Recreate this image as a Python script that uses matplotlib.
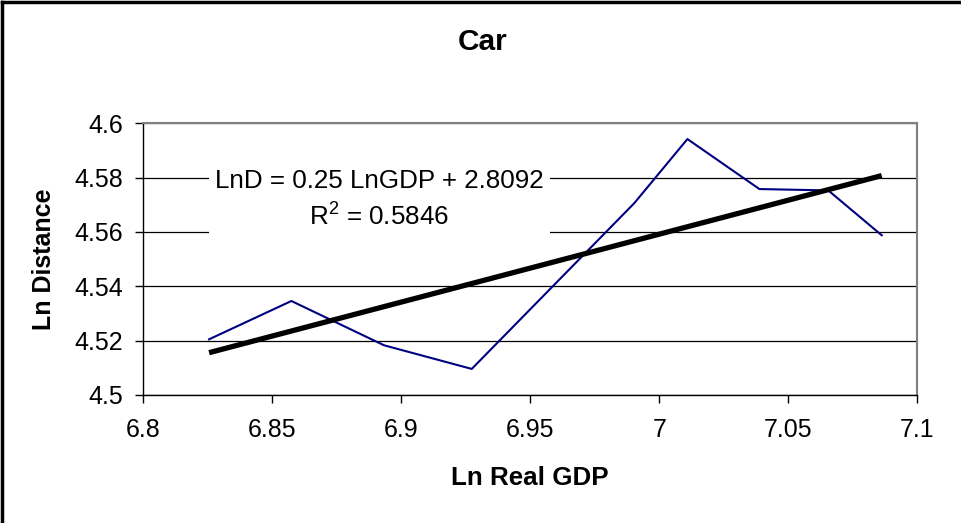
import matplotlib
matplotlib.use("Agg")
import matplotlib.pyplot as plt
from matplotlib.lines import Line2D
import numpy as np

plt.rcParams["font.family"] = ["Liberation Sans", "DejaVu Sans"]
plt.rcParams["mathtext.fontset"] = "custom"
plt.rcParams["mathtext.rm"] = "Liberation Sans"

# Ln Real GDP vs Ln Distance (car)
ln_gdp = [6.8255, 6.8574, 6.8933, 6.9273, 6.9903, 7.0109, 7.0388, 7.0655, 7.0862]
ln_dist = [4.5205, 4.5346, 4.5183, 4.5096, 4.5706, 4.5942, 4.5758, 4.5753, 4.5588]

# linear trend as printed on the chart
slope = 0.25
intercept = 2.8092
r2 = 0.5846

x_ticks = [6.8, 6.85, 6.9, 6.95, 7.0, 7.05, 7.1]
x_tick_labels = ["6.8", "6.85", "6.9", "6.95", "7", "7.05", "7.1"]
y_ticks = [4.5, 4.52, 4.54, 4.56, 4.58, 4.6]
y_tick_labels = ["4.5", "4.52", "4.54", "4.56", "4.58", "4.6"]

LINE_COLOR = "#000080"
W, H = 962, 523

fig = plt.figure(figsize=(W / 100, H / 100), dpi=100)
ax = fig.add_axes([143.3 / W, 1 - 395 / H, (917.3 - 143.3) / W, (395 - 123.3) / H])

ax.set_xlim(6.8, 7.1)
ax.set_ylim(4.5, 4.6)
ax.set_yticks(y_ticks)
ax.set_yticklabels(y_tick_labels, fontsize=18)
ax.set_xticks(x_ticks)
ax.set_xticklabels(x_tick_labels, fontsize=18)
ax.tick_params(axis="both", direction="out", length=6, width=1, color="black")
ax.tick_params(axis="x", pad=10.5)
ax.tick_params(axis="y", pad=8.5)
ax.grid(True, axis="y", color="black", linewidth=0.9)
ax.set_axisbelow(True)

for side in ("top", "right"):
    ax.spines[side].set_color("#808080")
    ax.spines[side].set_linewidth(1.5)
for side in ("left", "bottom"):
    ax.spines[side].set_color("black")
    ax.spines[side].set_linewidth(1.0)

ax.plot(ln_gdp, ln_dist, color=LINE_COLOR, linewidth=1.5, zorder=3)

xt = np.array([min(ln_gdp), max(ln_gdp)])
ax.plot(xt, slope * xt + intercept, color="black", linewidth=3.8,
        solid_capstyle="butt", zorder=4)

ax.text(6.8915, 4.5718,
        f"LnD = {slope:.2f} LnGDP + {intercept:.4f}\n"
        + r"$\mathregular{R^2}$" + f" = {r2:.4f}",
        ha="center", va="center", fontsize=18.7, linespacing=1.45,
        bbox=dict(facecolor="white", edgecolor="none", pad=4.5), zorder=5)

fig.text(483 / W, 1 - 42 / H, "Car", ha="center", va="center",
         fontsize=21.5, fontweight="bold")
fig.text(530 / W, 1 - 478 / H, "Ln Real GDP", ha="center", va="center",
         fontsize=18.7, fontweight="bold")
fig.text(44 / W, 1 - 259 / H, "Ln Distance", ha="center", va="center",
         rotation=90, fontsize=18, fontweight="bold")

# outer chart border (only left and top edges are inside the picture)
fig.add_artist(Line2D([2 / W, 2 / W], [0, 1 - 2 / H], transform=fig.transFigure,
                      color="black", linewidth=2.5))
fig.add_artist(Line2D([2 / W, 1], [1 - 2 / H, 1 - 2 / H], transform=fig.transFigure,
                      color="black", linewidth=2.5))

fig.savefig("out.png", dpi=100)
